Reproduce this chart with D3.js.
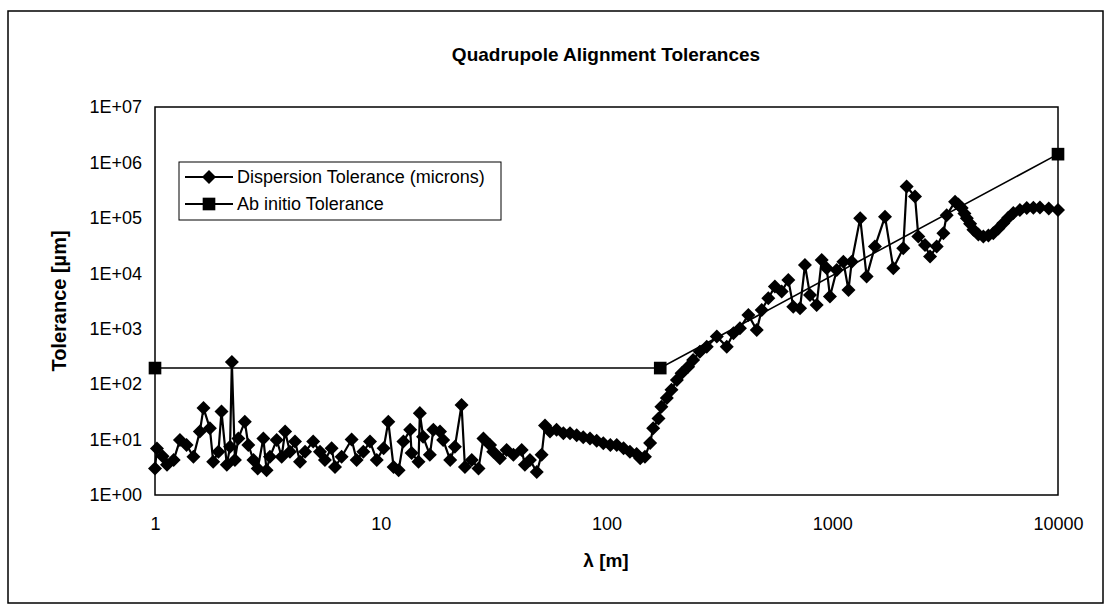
<!DOCTYPE html>
<html>
<head>
<meta charset="utf-8">
<script src="https://cdn.jsdelivr.net/npm/d3@7"></script>
<style>
  body { margin: 0; background: #fff; }
  text { font-family: "Liberation Sans", Arial, sans-serif; fill: #000; }
</style>
</head>
<body>
<div id="chart"></div>
<script>
// ---------------- DATA ----------------
var dispLambda = [
  1.00, 1.02, 1.08, 1.13, 1.21, 1.29, 1.38, 1.48, 1.58, 1.64, 1.75, 1.81, 1.91, 1.97, 2.08, 2.15, 2.19, 2.26, 2.34, 2.50,
  2.59, 2.73, 2.85, 3.02, 3.12, 3.23, 3.46, 3.64, 3.77, 3.96, 4.17, 4.39, 4.62, 5.02, 5.38, 5.66, 6.06, 6.27, 6.71, 7.43,
  7.82, 8.37, 8.96, 9.60, 10.3, 10.8, 11.4, 12.0, 12.6, 13.5, 13.7, 14.7, 14.9, 15.4, 16.5, 17.1, 18.3, 18.9, 20.3, 21.3,
  22.8, 23.6, 25.3, 27.1, 28.5, 30.5, 31.5, 33.7, 36.1, 38.7, 42.1, 43.5, 45.8, 49.1, 51.6, 53.4, 56.2, 60.1, 64.4, 68.9,
  73.8, 78.9, 84.5, 90.5, 96.8, 104, 111, 119, 127, 136, 141, 148, 156, 161, 170, 175, 185, 194, 205, 215,
  230, 242, 259, 278, 308, 341, 365, 390, 425, 463, 487, 521, 557, 597, 639, 672, 720, 757, 797, 853,
  898, 945, 977, 1047, 1120, 1180, 1220, 1330, 1420, 1546, 1713, 1864, 2063, 2136, 2326, 2406, 2575, 2712, 2902, 3106,
  3213, 3500, 3620, 3744, 3850, 3945, 4080, 4220, 4440, 4670, 4920, 5170, 5440, 5720, 6020, 6340, 6780, 7270, 7780, 8320,
  9100, 10000
];
var dispTol = [
  3.0, 6.9, 5.0, 3.5, 4.3, 9.8, 8.0, 4.9, 14, 37, 16, 4.0, 6.0, 32, 3.5, 7.4, 250, 4.3, 10.5, 21,
  8.0, 4.3, 3.0, 10.5, 2.8, 4.9, 9.8, 4.9, 14, 6.0, 9.2, 4.0, 6.0, 9.2, 6.0, 4.3, 7.0, 3.2, 4.9, 10,
  4.3, 6.0, 9.2, 4.3, 7.0, 21, 3.2, 2.8, 9.2, 15, 5.7, 4.0, 30, 11.3, 5.3, 15, 14, 9.8, 4.3, 7.4,
  42, 3.2, 4.3, 3.0, 10.5, 8.0, 6.0, 4.6, 6.5, 5.3, 6.5, 3.5, 4.3, 2.6, 5.3, 18, 14, 15, 13, 13,
  12, 11, 10.5, 9.5, 8.6, 8.0, 8.0, 7.0, 6.0, 5.5, 4.6, 4.9, 8.7, 16, 24, 39, 56, 79, 119, 157,
  207, 274, 386, 475, 720, 475, 830, 1020, 1770, 950, 2180, 3550, 5750, 4680, 7590, 2500, 2340, 14100, 4070, 2690,
  17400, 12300, 3800, 11500, 16200, 5000, 16200, 98800, 8710, 30300, 105000, 12300, 28200, 367000, 243000, 46000, 32500, 20000, 30300, 52700,
  112000, 196000, 175000, 150000, 120000, 98800, 78000, 60800, 50000, 46000, 48000, 52700, 64000, 80300, 100000, 122000, 138000, 150000, 152000, 153000,
  148000, 139000
];
var abLambda = [1, 173, 10000];
var abTol = [195, 195, 1410000];

var xTicks = [1, 10, 100, 1000, 10000];
var yTicks = [1, 10, 100, 1000, 10000, 100000, 1000000, 10000000];
var seriesNames = ["Dispersion Tolerance (microns)", "Ab initio Tolerance"];

// ---------------- SVG ----------------
var width = 1111, height = 610;
var svg = d3.select("#chart").append("svg")
  .attr("width", width)
  .attr("height", height);

// outer frame
svg.append("rect")
  .attr("x", 8).attr("y", 11)
  .attr("width", 1095).attr("height", 592)
  .attr("fill", "none").attr("stroke", "#000").attr("stroke-width", 1.5);

var x = d3.scaleLog().domain([1, 10000]).range([155, 1058]);
var y = d3.scaleLog().domain([1, 1e7]).range([495, 107]);

// plot frame
svg.append("rect")
  .attr("x", x(1)).attr("y", y(1e7))
  .attr("width", x(10000) - x(1)).attr("height", y(1) - y(1e7))
  .attr("fill", "none").attr("stroke", "#000").attr("stroke-width", 1.5);

// axes: labels only, no lines
var fmtY = function (d) { return "1E+" + String(Math.round(Math.log10(d))).padStart(2, "0"); };

var yAxis = svg.append("g")
  .attr("transform", "translate(" + x(1) + ",0)")
  .call(d3.axisLeft(y).tickValues(yTicks).tickFormat(fmtY).tickSize(0).tickPadding(13));
yAxis.select(".domain").remove();
yAxis.selectAll("text").style("font-size", "18px").style("font-family", "'Liberation Sans', Arial, sans-serif");

var xAxis = svg.append("g")
  .attr("transform", "translate(0," + y(1) + ")")
  .call(d3.axisBottom(x).tickValues(xTicks).tickFormat(d3.format("d")).tickSize(0).tickPadding(22));
xAxis.select(".domain").remove();
xAxis.selectAll("text").style("font-size", "18px").style("font-family", "'Liberation Sans', Arial, sans-serif");

// titles
svg.append("text")
  .attr("x", 606).attr("y", 61)
  .attr("text-anchor", "middle")
  .style("font-size", "19px").style("font-weight", "bold")
  .text("Quadrupole Alignment Tolerances");

svg.append("text")
  .attr("transform", "translate(66," + ((y(1) + y(1e7)) / 2) + ") rotate(-90)")
  .attr("text-anchor", "middle")
  .style("font-size", "20px").style("font-weight", "bold")
  .text("Tolerance [\u00b5m]");

svg.append("text")
  .attr("x", 606).attr("y", 567)
  .attr("text-anchor", "middle")
  .style("font-size", "19px").style("font-weight", "bold")
  .text("\u03bb [m]");

// ---------------- SERIES ----------------
var dispData = dispLambda.map(function (l, i) { return { x: l, y: dispTol[i] }; });
var abData = abLambda.map(function (l, i) { return { x: l, y: abTol[i] }; });

var line = d3.line()
  .x(function (d) { return x(d.x); })
  .y(function (d) { return y(d.y); });

var diamond = d3.symbol().type(d3.symbolDiamond2).size(125);
var square = d3.symbol().type(d3.symbolSquare).size(160);

svg.append("path")
  .datum(abData)
  .attr("d", line)
  .attr("fill", "none").attr("stroke", "#000").attr("stroke-width", 1.6);

svg.append("path")
  .datum(dispData)
  .attr("d", line)
  .attr("fill", "none").attr("stroke", "#000").attr("stroke-width", 2.2);

svg.selectAll(".disp")
  .data(dispData)
  .enter().append("path")
  .attr("class", "disp")
  .attr("d", diamond)
  .attr("transform", function (d) { return "translate(" + x(d.x) + "," + y(d.y) + ")"; })
  .attr("fill", "#000");

svg.selectAll(".ab")
  .data(abData)
  .enter().append("path")
  .attr("class", "ab")
  .attr("d", square)
  .attr("transform", function (d) { return "translate(" + x(d.x) + "," + y(d.y) + ")"; })
  .attr("fill", "#000");

// ---------------- LEGEND ----------------
var legend = svg.append("g").attr("transform", "translate(179,162)");
legend.append("rect")
  .attr("width", 322).attr("height", 58)
  .attr("fill", "#fff").attr("stroke", "#000").attr("stroke-width", 1);

var legendItems = legend.selectAll(".item")
  .data(seriesNames)
  .enter().append("g")
  .attr("class", "item")
  .attr("transform", function (d, i) { return "translate(0," + (15 + i * 27) + ")"; });

legendItems.append("line")
  .attr("x1", 6).attr("x2", 54)
  .attr("stroke", "#000").attr("stroke-width", 2);

legendItems.append("path")
  .attr("d", function (d, i) { return i === 0 ? diamond() : square(); })
  .attr("transform", "translate(30,0)")
  .attr("fill", "#000");

legendItems.append("text")
  .attr("x", 58).attr("dy", "0.35em")
  .style("font-size", "18px")
  .text(function (d) { return d; });
</script>
</body>
</html>
